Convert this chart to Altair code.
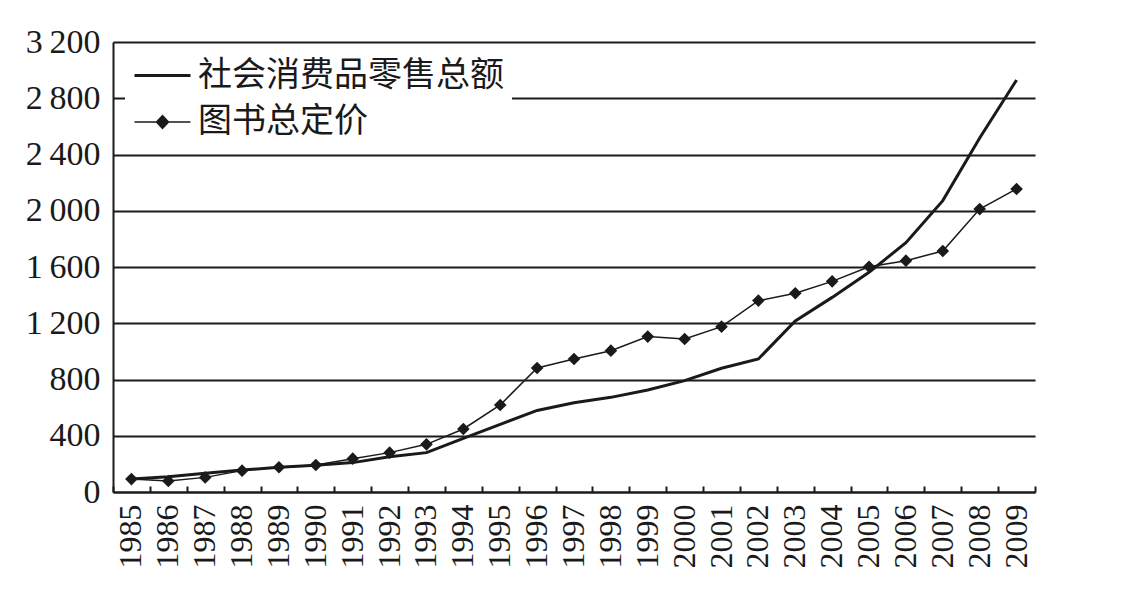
import altair as alt
import pandas as pd

# ---- data ----
years = ["1985", "1986", "1987", "1988", "1989", "1990", "1991", "1992", "1993",
         "1994", "1995", "1996", "1997", "1998", "1999", "2000", "2001", "2002",
         "2003", "2004", "2005", "2006", "2007", "2008", "2009"]
retail_sales = [92, 109, 133, 156, 176, 190, 209, 251, 280, 382, 481, 580, 635,
                673, 725, 792, 880, 946, 1216, 1384, 1562, 1773, 2072, 2517, 2930]
book_price = [92, 78, 104, 152, 176, 192, 237, 280, 339, 448, 619, 882, 946,
              1005, 1105, 1088, 1176, 1361, 1413, 1498, 1602, 1645, 1714, 2012, 2155]
series_names = ["社会消费品零售总额", "图书总定价"]
y_ticks = [0, 400, 800, 1200, 1600, 2000, 2400, 2800, 3200]

INK = "#1a1a1a"
NUM_FONT = "Liberation Serif, DejaVu Serif, serif"
CJK_FONT = "Noto Sans CJK SC"

rows = []
for name, vals in zip(series_names, [retail_sales, book_price]):
    for i, (yr, v) in enumerate(zip(years, vals)):
        rows.append({"year": yr, "value": v, "series": name, "order": i})
df = pd.DataFrame(rows)

PATH_RETAIL = "M-1,0H1.8"
PATH_BOOK = "M-1,0H1.8M0.1,0L0.4,-0.32L0.7,0L0.4,0.32Z"
is_book = f"datum.value === '{series_names[1]}'"

x_scale = alt.Scale(type="band", paddingInner=0, paddingOuter=0, domain=years)
y_scale = alt.Scale(domain=[0, 3200], nice=False, zero=True)

y_axis = alt.Axis(
    orient="left", values=y_ticks, grid=True, gridColor=INK, gridWidth=2,
    domainColor=INK, domainWidth=2, ticks=False, tickSize=0,
    labelPadding=13, labelFont=NUM_FONT, labelFontSize=34, labelColor=INK,
    labelFlush=False, labelOverlap=False, title=None,
    labelExpr="replace(format(datum.value, ','), ',', '\u2009')",
)

x_axis_bottom = alt.Axis(
    orient="bottom", labelAngle=270, labelFont=NUM_FONT, labelFontSize=32,
    labelColor=INK, labelPadding=12, ticks=False, tickSize=0,
    domainColor=INK, domainWidth=2, labelOverlap=False, title=None, grid=False,
)

x_axis_ticks = alt.Axis(
    orient="top", offset=-450, labels=False, domain=False, ticks=True,
    tickSize=6, tickWidth=2, tickColor=INK, tickBand="extent",
    title=None, grid=False,
)

legend = alt.Legend(
    title=None, orient="none", legendX=12, legendY=4,
    fillColor="white", padding=8, rowPadding=8,
    symbolSize=1600, labelOffset=22,
    labelFont=CJK_FONT, labelFontSize=34, labelColor=INK,
    labelBaseline="middle", labelLimit=600,
    symbolType={"expr": f"{is_book} ? '{PATH_BOOK}' : '{PATH_RETAIL}'"},
    symbolStrokeWidth={"expr": f"{is_book} ? 1.5 : 3"},
    symbolFillColor=INK, symbolStrokeColor=INK, symbolOpacity=1,
)

lines = alt.Chart(df).mark_line().encode(
    x=alt.X("year:N", scale=x_scale, axis=x_axis_bottom, bandPosition=0.5),
    y=alt.Y("value:Q", scale=y_scale, axis=y_axis),
    color=alt.Color("series:N",
                    scale=alt.Scale(domain=series_names, range=[INK, INK]),
                    legend=legend),
    strokeWidth=alt.StrokeWidth("series:N",
                                scale=alt.Scale(domain=series_names, range=[3, 1.5]),
                                legend=None),
    order="order:Q",
)

points = alt.Chart(df).transform_filter(
    alt.datum.series == series_names[1]
).mark_point(shape="diamond", filled=True, size=160, color=INK, opacity=1).encode(
    x=alt.X("year:N", scale=x_scale, axis=x_axis_ticks, bandPosition=0.5),
    y=alt.Y("value:Q", scale=y_scale, axis=y_axis),
)

chart = alt.layer(lines, points).properties(
    width=922, height=450,
    autosize=alt.AutoSizeParams(type="none"),
    padding={"left": 105, "top": 34, "right": 78, "bottom": 104},
    background="white",
).configure_view(stroke=None)

chart.save("out.html", embed_options={"renderer": "svg", "actions": False})
